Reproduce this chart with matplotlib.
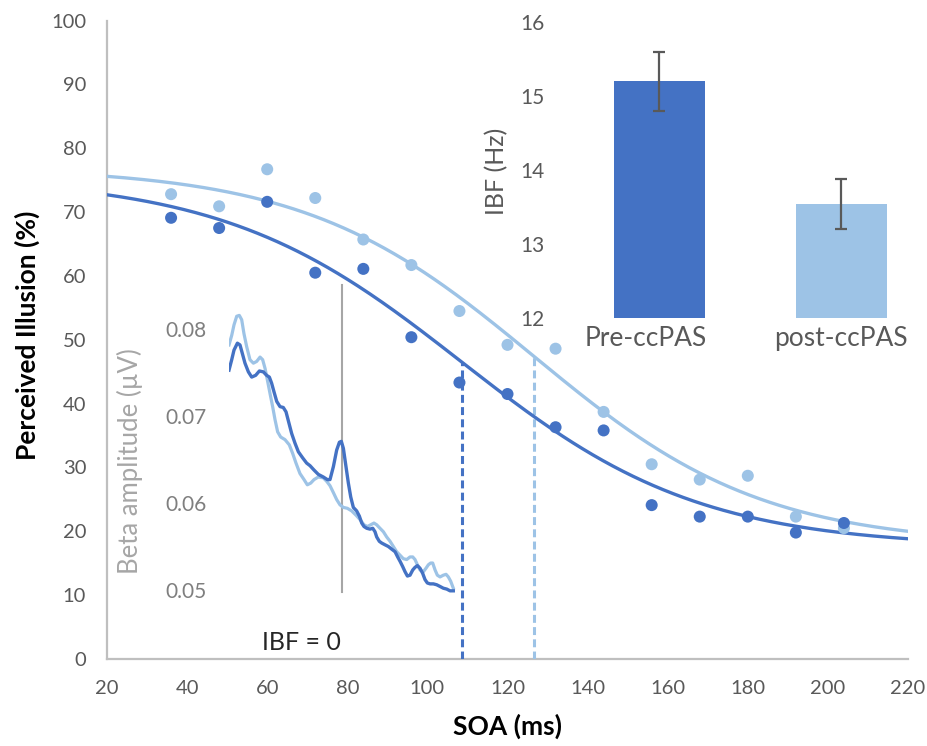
import numpy as np
import matplotlib
matplotlib.use("Agg")
import matplotlib.pyplot as plt
from matplotlib.transforms import ScaledTranslation

plt.rcParams['font.family'] = ['Lato', 'DejaVu Sans']

# ---------------- data ----------------
soa = [36, 48, 60, 72, 84, 96, 108, 120, 132, 144, 156, 168, 180, 192, 204]
illusion_pre = [69.1, 67.5, 71.6, 60.5, 61.1, 50.4, 43.3, 41.5, 36.3, 35.8, 24.1, 22.3, 22.3, 19.8, 21.3]
illusion_post = [72.8, 70.9, 76.7, 72.2, 65.7, 61.7, 54.5, 49.2, 48.6, 38.7, 30.5, 28.1, 28.7, 22.3, 20.5]

# logistic fits: bottom, top, threshold (ms), slope (ms)
fit_pre = dict(bottom=17.5, top=75.5, x0=108.6, s=29.7)
fit_post = dict(bottom=17.8, top=77.0, x0=126.6, s=28.7)

# beta amplitude around the individual beta frequency (offset in Hz)
beta_pre_f = [-10.0, -9.76, -9.56, -9.26, -9.03, -8.82, -8.59, -8.29, -8.0, -7.65, -7.32, -6.97,
              -6.68, -6.44, -6.24, -6.03, -5.79, -5.5, -5.21, -4.97, -4.71, -4.47, -4.18, -3.88,
              -3.5, -3.15, -2.85, -2.5, -2.12, -1.68, -1.32, -1.09, -0.79, -0.5, -0.26, -0.09,
              0.09, 0.32, 0.53, 0.74, 0.97, 1.26, 1.5, 1.71, 1.91, 2.15, 2.44, 2.68, 2.88, 3.03,
              3.26, 3.47, 3.76, 4.06, 4.35, 4.65, 4.88, 5.09, 5.32, 5.53, 5.74, 5.97, 6.21, 6.41,
              6.62, 6.85, 7.09, 7.29, 7.5, 7.74, 8.03, 8.32, 8.62, 8.91, 9.21, 9.5, 9.79]
beta_pre = [0.0753, 0.0765, 0.0776, 0.0784, 0.0782, 0.0772, 0.0761, 0.0751, 0.0745, 0.0747,
            0.0752, 0.0751, 0.0747, 0.0745, 0.0738, 0.0728, 0.0717, 0.0711, 0.0710, 0.0705,
            0.0692, 0.0680, 0.0669, 0.0659, 0.0652, 0.0646, 0.0643, 0.0638, 0.0633, 0.0630,
            0.0627, 0.0627, 0.0642, 0.0661, 0.0670, 0.0671, 0.0663, 0.0642, 0.0623, 0.0607,
            0.0595, 0.0591, 0.0585, 0.0577, 0.0573, 0.0571, 0.0570, 0.0571, 0.0567, 0.0561,
            0.0556, 0.0554, 0.0552, 0.0550, 0.0547, 0.0544, 0.0538, 0.0533, 0.0527, 0.0521,
            0.0516, 0.0517, 0.0523, 0.0526, 0.0528, 0.0525, 0.0519, 0.0512, 0.0508, 0.0507,
            0.0507, 0.0506, 0.0504, 0.0502, 0.0501, 0.0499, 0.0499]
beta_post_f = [-10.0, -9.76, -9.56, -9.32, -9.09, -8.88, -8.68, -8.44, -8.15, -7.85, -7.56, -7.26,
               -7.03, -6.82, -6.62, -6.38, -6.15, -5.94, -5.71, -5.44, -5.06, -4.68, -4.38, -4.09,
               -3.74, -3.38, -3.09, -2.79, -2.5, -2.12, -1.68, -1.38, -1.09, -0.79, -0.5, -0.21,
               0.09, 0.44, 0.82, 1.21, 1.56, 1.91, 2.21, 2.5, 2.79, 3.03, 3.32, 3.62, 3.91, 4.21,
               4.5, 4.79, 5.09, 5.38, 5.68, 5.97, 6.21, 6.41, 6.62, 6.85, 7.15, 7.38, 7.59, 7.79,
               7.97, 8.18, 8.38, 8.62, 8.91, 9.15, 9.35, 9.56, 9.79]
beta_post = [0.0782, 0.0793, 0.0805, 0.0815, 0.0816, 0.0811, 0.0795, 0.0780, 0.0765, 0.0761,
             0.0763, 0.0768, 0.0765, 0.0755, 0.0742, 0.0726, 0.0711, 0.0696, 0.0682, 0.0676,
             0.0673, 0.0667, 0.0657, 0.0646, 0.0634, 0.0627, 0.0621, 0.0623, 0.0627, 0.0630,
             0.0629, 0.0625, 0.0620, 0.0612, 0.0604, 0.0598, 0.0595, 0.0594, 0.0591, 0.0586,
             0.0581, 0.0575, 0.0573, 0.0575, 0.0577, 0.0575, 0.0571, 0.0567, 0.0561, 0.0556,
             0.0550, 0.0544, 0.0540, 0.0536, 0.0535, 0.0538, 0.0538, 0.0535, 0.0529, 0.0523,
             0.0521, 0.0525, 0.0529, 0.0531, 0.0531, 0.0523, 0.0517, 0.0515, 0.0517, 0.0518,
             0.0515, 0.0510, 0.0502]

groups = ["Pre-ccPAS", "post-ccPAS"]
ibf_mean = [15.2, 13.54]
ibf_err = [0.4, 0.34]

# ---------------- style ----------------
DARK = "#4472C4"
LIGHT = "#9DC3E6"
TICK = "#595959"
SPINE = "#BFBFBF"
W, H = 927, 746


def logistic(x, bottom, top, x0, s):
    return bottom + (top - bottom) / (1.0 + np.exp((x - x0) / s))


def px_box(left, top, right, bottom):
    return [left / W, 1 - bottom / H, (right - left) / W, (bottom - top) / H]


fig = plt.figure(figsize=(W / 100, H / 100), dpi=100)

# ---------------- psychometric curves ----------------
ax = fig.add_axes(px_box(107, 20.5, 908, 659))
ax.set_xlim(20, 220)
ax.set_ylim(0, 100)
ax.set_xticks(range(20, 221, 20))
ax.set_yticks(range(0, 101, 10))
ax.tick_params(length=0, labelsize=14.5, labelcolor=TICK)
ax.tick_params(axis='x', pad=15)
ax.tick_params(axis='y', pad=15)
for side in ("top", "right"):
    ax.spines[side].set_visible(False)
for side in ("left", "bottom"):
    ax.spines[side].set_color(SPINE)
    ax.spines[side].set_linewidth(1.6)

xs = np.linspace(20, 220, 400)
for fit, pts, col in ((fit_post, illusion_post, LIGHT), (fit_pre, illusion_pre, DARK)):
    ax.plot(xs, logistic(xs, **fit), color=col, lw=2.4, zorder=3)
    ax.scatter(soa, pts, s=75, color=col, edgecolors='none', zorder=4)
    ythr = logistic(fit["x0"], **fit)
    ax.plot([fit["x0"], fit["x0"]], [0, ythr], color=col, lw=2.2,
            dashes=(2.6, 1.4), zorder=3, solid_capstyle='butt')

fig.text(508 / W, 1 - 726 / H, "SOA (ms)", ha='center', va='center',
         fontsize=19, fontweight='bold', color='black')
fig.text(27.5 / W, 1 - 335 / H, "Perceived Illusion (%)", ha='center', va='center',
         rotation=90, fontsize=19, fontweight='bold', color='black')

# ---------------- beta amplitude inset ----------------
axb = fig.add_axes(px_box(229, 281.5, 455.7, 594.3))
axb.patch.set_alpha(0)
axb.set_xlim(-10, 10)
axb.set_ylim(0.0495, 0.0855)
for sp in axb.spines.values():
    sp.set_visible(False)
axb.set_xticks([])
axb.set_yticks([0.05, 0.06, 0.07, 0.08])
axb.set_yticklabels(["0.05", "0.06", "0.07", "0.08"])
axb.tick_params(length=0, labelsize=15, labelcolor="#7F7F7F", pad=16)
axb.plot([0, 0], [0.0498, 0.0851], color="#A6A6A6", lw=1.5)
axb.plot(beta_post_f, beta_post, color=LIGHT, lw=2.3)
axb.plot(beta_pre_f, beta_pre, color=DARK, lw=2.4)
fig.text(130 / W, 1 - 461 / H, "Beta amplitude (\u00b5V)", ha='center', va='center',
         rotation=90, fontsize=18.5, color="#A6A6A6")
fig.text(301 / W, 1 - 643 / H, "IBF = 0", ha='center', va='center',
         fontsize=18, color="#262626")

# ---------------- IBF bar inset ----------------
axr = fig.add_axes(px_box(560, 22, 925, 318))
axr.patch.set_alpha(0)
axr.set_xlim(-0.544, 1.4615)
axr.set_ylim(12, 16)
for sp in axr.spines.values():
    sp.set_visible(False)
xpos = np.arange(len(groups))
axr.bar(xpos, [m - 12 for m in ibf_mean], bottom=12, width=0.5, color=[DARK, LIGHT])
axr.errorbar(xpos, ibf_mean, yerr=ibf_err, fmt='none', ecolor=TICK,
             elinewidth=1.6, capsize=4.5, capthick=1.6)
axr.set_xticks(xpos)
axr.set_xticklabels(groups)
axr.set_yticks([12, 13, 14, 15, 16])
axr.tick_params(length=0, labelcolor=TICK)
axr.tick_params(axis='y', labelsize=15, pad=11)
axr.tick_params(axis='x', labelsize=19, pad=6)
# the first category label sits a little left of its bar
first = axr.get_xticklabels()[0]
first.set_transform(first.get_transform() + ScaledTranslation(-0.13, 0, fig.dpi_scale_trans))
fig.text(497 / W, 1 - 171 / H, "IBF (Hz)", ha='center', va='center',
         rotation=90, fontsize=18, color=TICK)

fig.savefig("out.png", dpi=100)
